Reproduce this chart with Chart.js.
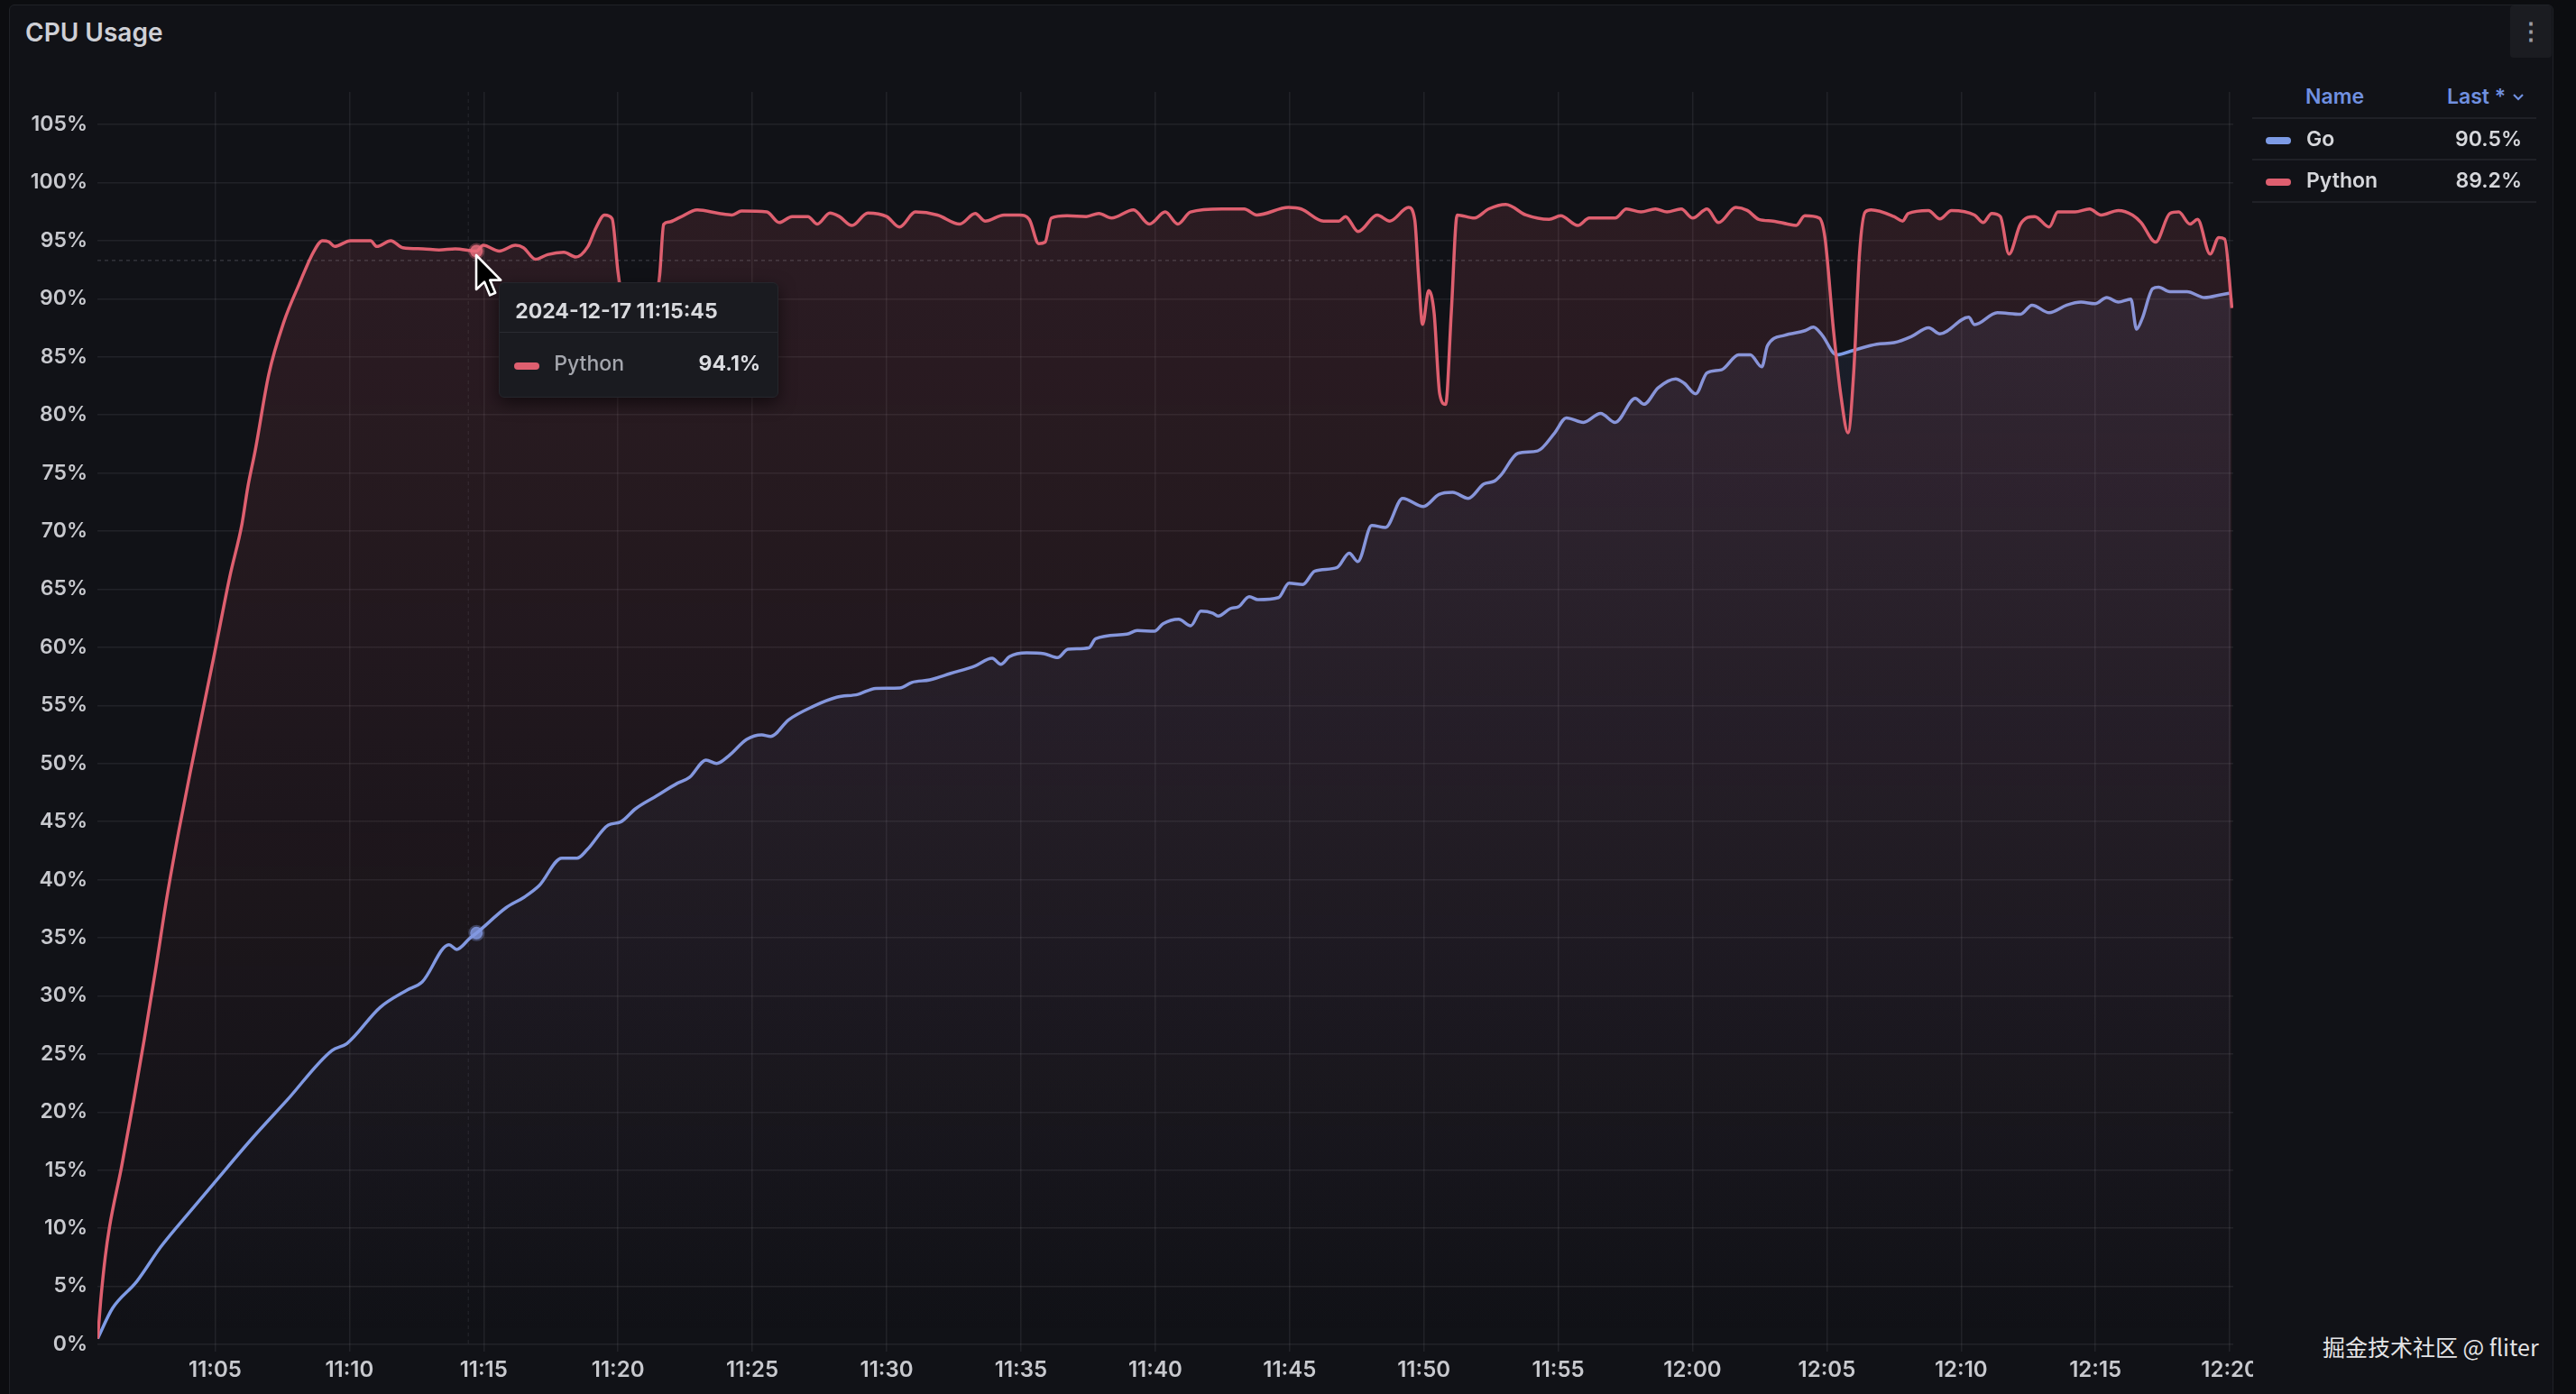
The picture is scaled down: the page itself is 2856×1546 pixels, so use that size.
<!DOCTYPE html>
<html><head><meta charset="utf-8">
<script src="https://cdn.jsdelivr.net/npm/chart.js@4.4.1/dist/chart.umd.min.js"></script>
<style>
html,body{margin:0;padding:0;background:#0c0d10;width:2856px;height:1546px;overflow:hidden;font-family:Inter,'Noto Sans',sans-serif;}
.abs{position:absolute;}
#panel{left:10px;top:5px;width:2821px;height:1600px;background:#111217;border:1px solid #202227;border-radius:6px;box-sizing:border-box;}
#title{left:28px;top:22px;font:600 28px/28px Inter;color:#cfd0d6;white-space:nowrap;}
#menu{left:2783px;top:6px;width:46px;height:58px;background:#1b1c21;border-radius:4px;color:#9a9ba3;font:700 26px/58px Inter;text-align:center;}
#chartWrap{left:0;top:60px;width:2498px;height:1486px;}
.lgline{height:2px;background:#202127;left:2497px;width:315px;}
.lgtxt{font:600 23px/24px Inter;color:#d6d7db;white-space:nowrap;}
.lghead{font:600 23px/24px Inter;color:#7090e0;white-space:nowrap;}
.sw{width:28px;height:8px;border-radius:4px;}
#tip{width:310px;height:128px;background:#1a1b20;border:1px solid #25262c;border-radius:6px;box-shadow:0 6px 18px rgba(0,0,0,0.55);box-sizing:border-box;}
#wm{left:2575px;top:1478px;font:400 25px/30px 'Noto Sans CJK SC',sans-serif;color:#e4e4e6;white-space:nowrap;}
</style></head>
<body>
<div id="panel" class="abs"></div>
<div id="title" class="abs">CPU Usage</div>
<div id="menu" class="abs">⋮</div>
<div id="chartWrap" class="abs"><canvas id="c" width="2498" height="1486"></canvas></div>

<div class="abs lghead" style="left:2556px;top:95px;">Name</div>
<div class="abs lghead" style="left:2713px;top:95px;">Last *</div>
<svg class="abs" style="left:2785px;top:103px;" width="14" height="10" viewBox="0 0 14 10"><path d="M2 2 L7 7 L12 2" stroke="#7090e0" stroke-width="2.2" fill="none"/></svg>
<div class="abs lgline" style="top:130px;"></div>
<div class="abs lgline" style="top:176px;"></div>
<div class="abs lgline" style="top:223px;"></div>
<div id="legendRows"></div>

<div id="tip" class="abs" style="display:none">
  <div class="abs" id="tipHead" style="left:17px;top:19px;font:700 23px/24px Inter;color:#d9dade;white-space:nowrap;"></div>
  <div class="abs" style="left:0;top:54px;width:308px;height:1px;background:#2a2b31;"></div>
  <div class="abs sw" id="tipSw" style="left:16px;top:88px;"></div>
  <div class="abs" id="tipName" style="left:60px;top:77px;font:500 23px/24px Inter;color:#a4a6ad;white-space:nowrap;"></div>
  <div class="abs" id="tipVal" style="right:19px;top:77px;font:700 23px/24px Inter;color:#dcdde1;white-space:nowrap;"></div>
</div>
<svg id="cursor" class="abs" style="display:none" width="34" height="54" viewBox="0 0 17 27"><path d="M1 1 L1 20 L5.5 15.8 L8.6 23.2 L11.6 21.9 L8.6 14.8 L14.6 14.8 Z" fill="#000" stroke="#fff" stroke-width="1.3" stroke-linejoin="round"/></svg>
<div id="wm" class="abs">掘金技术社区 @ fliter</div>

<script>
// ---- data (time in minutes after 11:00:00) ----
const xTickValues = [5,10,15,20,25,30,35,40,45,50,55,60,65,70,75,80];
const xTickLabels = ['11:05','11:10','11:15','11:20','11:25','11:30','11:35','11:40','11:45','11:50','11:55','12:00','12:05','12:10','12:15','12:20'];
const yTickValues = [0,5,10,15,20,25,30,35,40,45,50,55,60,65,70,75,80,85,90,95,100,105];
const yTickLabels = ['0%','5%','10%','15%','20%','25%','30%','35%','40%','45%','50%','55%','60%','65%','70%','75%','80%','85%','90%','95%','100%','105%'];
const seriesNames = ['Go','Python'];

const pythonTimes = [0.63,0.74,0.91,1.07,1.52,1.97,2.36,2.81,3.2,3.65,4.09,4.54,4.99,5.55,6.0,6.22,6.5,7.0,7.56,8.12,8.68,9.0,9.24,9.45,10.04,10.79,11.02,11.54,11.99,12.74,13.34,13.94,14.73,14.98,15.58,16.18,16.48,16.93,17.38,17.98,18.43,18.88,19.18,19.5,19.78,20.0,20.3,20.8,21.3,21.55,21.7,21.89,22.3,22.95,23.77,24.24,24.6,25.54,26.0,26.48,27.07,27.42,27.89,28.24,28.71,29.3,30.0,30.48,31.07,31.89,32.72,33.3,33.66,34.37,34.95,35.31,35.66,35.9,36.13,36.72,37.43,37.9,38.37,39.19,39.78,40.37,40.84,41.31,42.49,43.31,43.78,44.96,45.43,46.26,46.84,47.08,47.55,48.26,48.73,49.43,49.66,49.8,49.95,50.18,50.38,50.59,50.81,51.02,51.24,51.88,52.41,53.05,53.8,54.66,55.09,55.73,56.16,57.12,57.54,58.08,58.62,59.05,59.58,60.01,60.54,60.97,61.61,62.04,62.47,63.0,63.54,63.86,64.18,64.72,64.93,65.25,65.53,65.79,66.0,66.22,66.43,66.65,67.5,67.82,68.03,68.78,69.21,69.64,70.5,70.82,71.14,71.46,71.78,72.21,72.74,73.28,73.6,74.24,74.78,75.21,75.85,76.38,76.7,77.24,77.77,78.1,78.52,78.8,79.27,79.59,79.81,80.08];
const pythonValues = [0.5,3.7,7.5,10.1,15.3,21.0,26.2,32.6,38.4,44.2,49.4,54.5,59.6,66.1,70.6,73.8,77.0,83.5,88.0,91.2,94.1,95.0,94.9,94.5,95.0,95.0,94.5,95.0,94.4,94.3,94.2,94.3,94.1,94.6,94.1,94.6,94.4,93.4,93.8,94.0,93.6,94.5,96.1,97.2,96.9,92.3,88.0,86.5,88.5,92.0,96.4,96.6,97.0,97.65,97.34,97.21,97.55,97.47,96.56,97.08,97.08,96.43,97.39,97.08,96.31,97.39,97.08,96.18,97.47,97.21,96.43,97.34,96.69,97.21,97.21,96.83,94.75,94.88,96.95,97.14,97.08,97.34,96.95,97.65,96.43,97.47,96.43,97.47,97.73,97.73,97.21,97.86,97.73,96.69,96.69,97.08,95.79,97.21,96.69,97.86,96.8,92.0,87.8,90.7,88.8,81.8,80.9,88.8,97.21,96.95,97.73,98.12,97.21,96.83,97.14,96.31,96.95,96.95,97.73,97.47,97.73,97.47,97.73,96.95,97.73,96.56,97.86,97.6,96.83,96.69,96.43,96.31,97.14,96.95,95.27,87.25,81.56,78.46,83.63,93.98,97.47,97.65,97.08,96.69,97.34,97.6,96.88,97.6,97.21,96.56,97.34,97.08,93.85,96.43,97.08,96.18,97.47,97.47,97.73,97.21,97.6,97.21,96.56,94.88,97.34,97.47,96.43,96.83,93.85,95.27,95.14,89.2];

const goTimes = [0.63,1.18,2.08,2.98,4.09,5.04,6.33,7.67,9.35,9.91,11.14,12.15,12.71,13.71,13.99,14.5,14.73,15.84,16.51,17.07,17.91,18.47,18.86,19.64,20.09,20.65,21.43,22.21,22.66,23.28,23.67,24.12,24.79,25.35,25.68,26.35,27.25,28.14,28.93,29.6,30.49,30.94,31.61,32.39,33.29,33.93,34.25,34.57,35.21,35.86,36.37,36.75,37.53,37.78,38.94,39.33,39.97,40.29,40.87,41.32,41.7,42.15,42.34,42.79,43.11,43.5,43.82,44.59,44.98,45.49,45.94,46.77,47.22,47.54,48.06,48.57,49.21,49.98,50.56,51.07,51.65,52.23,52.62,52.87,53.5,54.23,54.87,55.3,55.94,56.58,57.12,57.87,58.19,58.72,59.37,59.69,60.12,60.54,61.08,61.72,62.15,62.58,62.79,63.43,64.18,64.5,64.83,65.36,66.0,66.86,67.5,68.14,68.79,69.21,70.28,70.5,71.35,72.21,72.64,73.28,73.93,74.46,74.99,75.42,75.85,76.32,76.53,76.74,77.13,77.35,77.77,78.41,79.06,79.7,80.03];
const goValues = [0.5,3.1,5.4,8.4,11.5,14.1,17.6,21.0,25.3,25.9,29.0,30.5,31.2,34.4,34.0,35.0,35.4,37.6,38.5,39.5,41.85,41.85,42.6,44.7,44.96,46.1,47.2,48.3,48.8,50.3,50.0,50.65,52.07,52.46,52.33,53.76,54.9,55.7,55.95,56.47,56.5,56.98,57.2,57.76,58.4,59.06,58.54,59.19,59.52,59.45,59.11,59.83,59.96,60.74,61.13,61.44,61.39,62.03,62.42,61.85,63.12,62.94,62.68,63.33,63.51,64.36,64.1,64.28,65.52,65.4,66.56,66.87,68.11,67.38,70.49,70.31,72.82,72.12,73.16,73.34,72.82,74.06,74.3,74.83,76.7,76.9,78.46,79.75,79.36,80.14,79.36,81.43,80.92,82.34,83.11,82.73,81.82,83.63,83.89,85.18,85.18,84.14,85.96,86.86,87.25,87.56,86.86,85.18,85.57,86.09,86.22,86.74,87.51,86.99,88.41,87.77,88.8,88.67,89.45,88.8,89.45,89.71,89.58,90.1,89.71,89.97,87.38,88.29,90.87,91.0,90.61,90.61,90.1,90.36,90.5];

const hoverTime = 14.73;            // hovered sample
const hoverLabel = '2024-12-17 11:15:45';
const cursorTime = 14.43;           // mouse crosshair position
const cursorValue = 93.3;

// ---- styles ----
const PY = '#de5f6f', GO = '#7d9be6';
const gridColor = 'rgba(204,204,220,0.085)';
const tickColor = '#c8c9ce';

function grad(c, rgb, a0) {
  const ca = c.chart.chartArea;
  if (!ca) return 'rgba(0,0,0,0)';
  const g = c.chart.ctx.createLinearGradient(0, ca.top, 0, ca.bottom);
  g.addColorStop(0, 'rgba(' + rgb + ',' + a0 + ')');
  g.addColorStop(1, 'rgba(' + rgb + ',0)');
  return g;
}
const pyHover = pythonTimes.indexOf(hoverTime);
const goHover = goTimes.indexOf(hoverTime);

const crosshair = {
  id: 'crosshair',
  afterDatasetsDraw(chart) {
    const {ctx, chartArea: ca, scales: {x, y}} = chart;
    const px = x.getPixelForValue(cursorTime), py = y.getPixelForValue(cursorValue);
    ctx.save();
    ctx.lineWidth = 1.5;
    ctx.setLineDash([4, 4]);
    ctx.strokeStyle = 'rgba(204,204,220,0.18)';
    ctx.beginPath(); ctx.moveTo(ca.left, py); ctx.lineTo(ca.right, py); ctx.stroke();
    ctx.strokeStyle = 'rgba(204,204,220,0.08)';
    ctx.beginPath(); ctx.moveTo(px, ca.top); ctx.lineTo(px, ca.bottom); ctx.stroke();
    ctx.restore();
  }
};

const chart = new Chart(document.getElementById('c'), {
  type: 'line',
  data: {
    datasets: [
      { label: seriesNames[1], data: pythonTimes.map((t, i) => ({x: t, y: pythonValues[i]})),
        borderColor: PY, borderWidth: 3.5, fill: 'origin',
        backgroundColor: c => grad(c, '222,95,111', 0.15),
        cubicInterpolationMode: 'monotone',
        pointRadius: c => c.dataIndex === pyHover ? 7 : 0,
        pointBackgroundColor: 'rgba(232,110,125,0.85)', pointBorderColor: 'rgba(232,110,125,0.35)', pointBorderWidth: 4 },
      { label: seriesNames[0], data: goTimes.map((t, i) => ({x: t, y: goValues[i]})),
        borderColor: GO, borderWidth: 3.5, fill: 'origin',
        backgroundColor: c => grad(c, '125,155,230', 0.11),
        cubicInterpolationMode: 'monotone',
        pointRadius: c => c.dataIndex === goHover ? 7 : 0,
        pointBackgroundColor: 'rgba(125,155,230,0.85)', pointBorderColor: 'rgba(125,155,230,0.35)', pointBorderWidth: 4 }
    ]
  },
  options: {
    responsive: false, animation: false, devicePixelRatio: 1, events: [],
    layout: { padding: { top: 42, right: 22, left: 0, bottom: 0 } },
    plugins: { legend: { display: false }, tooltip: { enabled: false } },
    scales: {
      x: {
        type: 'linear', min: 0.62, max: 80.13,
        afterBuildTicks: s => { s.ticks = xTickValues.map(v => ({value: v})); },
        afterFit: s => { s.height = 55; s.paddingRight = 0; s.paddingLeft = 0; },
        ticks: { callback: (v, i) => xTickLabels[i], color: tickColor, font: {family: 'Inter', size: 24, weight: 600}, padding: 6, maxRotation: 0, autoSkip: false },
        grid: { color: gridColor, lineWidth: 1.5, tickLength: 8, drawTicks: true, tickColor: gridColor },
        border: { display: false }
      },
      y: {
        min: 0, max: 107.8,
        afterBuildTicks: s => { s.ticks = yTickValues.map(v => ({value: v})); },
        afterFit: s => { s.width = 108; },
        ticks: { callback: (v, i) => yTickLabels[i], color: tickColor, font: {family: 'Inter', size: 23, weight: 600}, padding: 11 },
        grid: { color: gridColor, lineWidth: 1.5, drawTicks: false },
        border: { display: false }
      }
    }
  },
  plugins: [crosshair]
});

// ---- legend table ----
const rowsEl = document.getElementById('legendRows');
const legendData = [
  {name: seriesNames[0], color: GO, last: goValues[goValues.length - 1], top: 142},
  {name: seriesNames[1], color: PY, last: pythonValues[pythonValues.length - 1], top: 188}
];
legendData.forEach(r => {
  rowsEl.insertAdjacentHTML('beforeend',
    '<div class="abs sw" style="left:2512px;top:' + (r.top + 10) + 'px;background:' + r.color + '"></div>' +
    '<div class="abs lgtxt" style="left:2557px;top:' + r.top + 'px;">' + r.name + '</div>' +
    '<div class="abs lgtxt" style="right:' + (2856 - 2796) + 'px;top:' + r.top + 'px;">' + r.last.toFixed(1) + '%</div>');
});

// ---- hover tooltip (positioned from the chart scales) ----
const wrap = document.getElementById('chartWrap');
const ox = wrap.offsetLeft, oy = wrap.offsetTop;
const hx = chart.scales.x.getPixelForValue(hoverTime) + ox;
const hy = chart.scales.y.getPixelForValue(pythonValues[pyHover]) + oy;
const tip = document.getElementById('tip');
tip.style.left = (hx + 25) + 'px';
tip.style.top = (hy + 34) + 'px';
tip.style.display = 'block';
document.getElementById('tipHead').textContent = hoverLabel;
document.getElementById('tipSw').style.background = PY;
document.getElementById('tipName').textContent = seriesNames[1];
document.getElementById('tipVal').textContent = pythonValues[pyHover].toFixed(1) + '%';
const cur = document.getElementById('cursor');
cur.style.left = (hx - 2) + 'px';
cur.style.top = (chart.scales.y.getPixelForValue(cursorValue) + oy - 8) + 'px';
cur.style.display = 'block';
</script>
</body></html>
